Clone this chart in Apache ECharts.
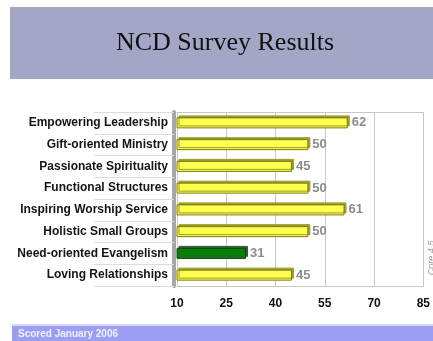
<!DOCTYPE html>
<html>
<head>
<meta charset="utf-8">
<script src="https://cdn.jsdelivr.net/npm/echarts@6/dist/echarts.min.js"></script>
<style>html,body{margin:0;padding:0;background:#fff;}#c{width:433px;height:341px;}</style>
</head>
<body>
<div id="c"></div>
<script>
const categories = ['Empowering Leadership','Gift-oriented Ministry','Passionate Spirituality','Functional Structures','Inspiring Worship Service','Holistic Small Groups','Need-oriented Evangelism','Loving Relationships'];
const scores = [62, 50, 45, 50, 61, 50, 31, 45];
const xTicks = [10, 25, 40, 55, 70, 85];
const lowestFactor = 'Need-oriented Evangelism';

const chart = echarts.init(document.getElementById('c'), null, {renderer: 'canvas'});
const barData = scores.map((v, i) => {
  const low = categories[i] === lowestFactor;
  return {
    value: v,
    itemStyle: low
      ? {color: '#0b7d0b', borderColor: '#0a4d0a', shadowColor: '#2f5f2f'}
      : {color: '#ffff4f', borderColor: '#7a7a14', shadowColor: '#9d9d2c'}
  };
});
chart.setOption({
  animation: false,
  graphic: [
    {type: 'rect', shape: {x: 10, y: 7, width: 423, height: 72}, style: {fill: '#a3a7c5'}, z: -1},
    {type: 'text', x: 225, y: 43, style: {text: 'NCD Survey Results', font: '26px "Liberation Serif", "Times New Roman", serif', fill: '#111', align: 'center', verticalAlign: 'middle'}},
    {type: 'rect', shape: {x: 12, y: 325, width: 421, height: 16}, style: {fill: '#9c9ef4'}, z: -1},
    {type: 'rect', shape: {x: 12, y: 324, width: 421, height: 2}, style: {fill: '#d4d6fa'}, z: -1},
    {type: 'text', x: 18, y: 334, style: {text: 'Scored January 2006', font: 'bold 10px "Liberation Sans", Arial, sans-serif', fill: '#eef0ff', align: 'left', verticalAlign: 'middle'}},
    {type: 'text', x: 431, y: 258, rotation: Math.PI / 2, style: {text: 'Core 4.5', font: 'italic 9px "Liberation Sans", Arial, sans-serif', fill: '#999', align: 'center', verticalAlign: 'middle'}}
  ],
  grid: {left: 177, top: 112, width: 247, height: 174, containLabel: false},
  xAxis: [{
    type: 'value', min: xTicks[0], max: xTicks[xTicks.length - 1], interval: xTicks[1] - xTicks[0],
    axisLine: {show: true, lineStyle: {color: '#c8c8c8'}},
    axisTick: {show: false},
    axisLabel: {margin: 12, color: '#111', fontWeight: 'bold', fontSize: 12, fontFamily: '"Liberation Sans", Arial, sans-serif'},
    splitLine: {show: true, lineStyle: {color: '#c8c8c8', width: 1}}
  }, {
    type: 'value', position: 'top', min: xTicks[0], max: xTicks[xTicks.length - 1], interval: xTicks[1] - xTicks[0],
    axisLine: {show: true, lineStyle: {color: '#c8c8c8'}},
    axisTick: {show: false}, axisLabel: {show: false}, splitLine: {show: false}
  }],
  yAxis: {
    type: 'category', data: categories, inverse: true, offset: 3,
    axisLine: {show: true, lineStyle: {color: '#a6a6a6', width: 4}},
    axisTick: {show: true, length: 80, lineStyle: {color: '#dcdcdc'}},
    axisLabel: {margin: 6, color: '#141414', fontWeight: 'bold', fontSize: 12, fontFamily: '"Liberation Sans", Arial, sans-serif'}
  },
  series: [{
    type: 'bar', data: barData, barWidth: 11, xAxisIndex: 0,
    itemStyle: {borderWidth: 1, shadowBlur: 0, shadowOffsetX: 2, shadowOffsetY: -2},
    label: {show: true, position: 'right', distance: 4, color: '#8c8c8c', fontWeight: 'bold', fontSize: 13, fontFamily: '"Liberation Sans", Arial, sans-serif'}
  }]
});
</script>
</body>
</html>
